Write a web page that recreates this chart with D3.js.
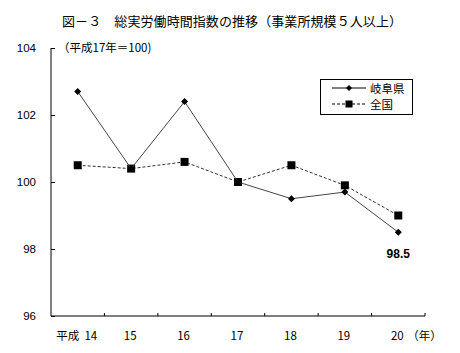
<!DOCTYPE html>
<html>
<head>
<meta charset="utf-8">
<script src="https://cdn.jsdelivr.net/npm/d3@7"></script>
<style>
  body { margin: 0; background: #fff; }
  svg { display: block; font-family: "Noto Sans CJK JP", "DejaVu Sans", sans-serif; }
</style>
</head>
<body>
<svg width="460" height="353"></svg>
<script>
// data
var years = ["14", "15", "16", "17", "18", "19", "20"];
var gifu = [102.7, 100.4, 102.4, 100.0, 99.5, 99.7, 98.5];
var zenkoku = [100.5, 100.4, 100.6, 100.0, 100.5, 99.9, 99.0];
var yTicks = [96, 98, 100, 102, 104];

var svg = d3.select("svg");
var margin = { left: 51, right: 35, top: 48, bottom: 37 };
var width = 460, height = 353;

var x = d3.scaleBand()
    .domain(years)
    .range([margin.left, width - margin.right]);

var y = d3.scaleLinear()
    .domain([96, 104])
    .range([height - margin.bottom, margin.top]);

// title
svg.append("text")
    .attr("x", 232)
    .attr("y", 26)
    .attr("text-anchor", "middle")
    .style("font-size", "13px")
    .attr("textLength", 340)
    .text("図－３　総実労働時間指数の推移（事業所規模５人以上）");

svg.append("text")
    .attr("x", 58)
    .attr("y", 52)
    .style("font-size", "11.5px")
    .text("（平成17年＝100)");

// y axis
var yAxis = d3.axisLeft(y)
    .tickValues(yTicks)
    .tickSize(-4)
    .tickPadding(15)
    .tickFormat(d3.format("d"));

var gy = svg.append("g")
    .attr("transform", "translate(" + margin.left + ",0)")
    .call(yAxis);
gy.select(".domain").attr("d", "M" + 0 + "," + y(104) + "V" + y(96));
gy.selectAll("text").style("font-size", "11.5px").style("font-family", "Liberation Sans, Arial, sans-serif");

// x axis
var gx = svg.append("g")
    .attr("transform", "translate(0," + y(96) + ")");
gx.append("line")
    .attr("x1", margin.left).attr("x2", width - margin.right)
    .attr("stroke", "#000");
gx.selectAll(".tk")
    .data(years.slice(1).concat(["end"]))
    .enter().append("line")
    .attr("x1", function(d, i) { return margin.left + x.bandwidth() * (i + 1); })
    .attr("x2", function(d, i) { return margin.left + x.bandwidth() * (i + 1); })
    .attr("y1", 0).attr("y2", -3)
    .attr("stroke", "#000");
gx.selectAll(".lbl")
    .data(years)
    .enter().append("text")
    .attr("x", function(d) { return x(d) + x.bandwidth() / 2 - 1; })
    .attr("y", 24)
    .attr("text-anchor", "middle")
    .style("font-size", "11.5px")
    .text(function(d, i) { return i == 0 ? "平成\u00a0\u00a014" .replace("14", d) : d; });
gx.append("text")
    .attr("x", x("20") + x.bandwidth() / 2 + 9)
    .attr("y", 24)
    .style("font-size", "11.5px")
    .text("（年）");

var line = d3.line()
    .x(function(d, i) { return x(years[i]) + x.bandwidth() / 2; })
    .y(function(d) { return y(d); });

// national
svg.append("path")
    .datum(zenkoku)
    .attr("d", line)
    .attr("fill", "none")
    .attr("stroke", "#333")
    .attr("stroke-width", 1)
    .attr("stroke-dasharray", "3,2");
svg.selectAll(".sq")
    .data(zenkoku)
    .enter().append("rect")
    .attr("x", function(d, i) { return x(years[i]) + x.bandwidth() / 2 - 4; })
    .attr("y", function(d) { return y(d) - 4; })
    .attr("width", 8).attr("height", 8)
    .attr("fill", "#000");

// gifu
svg.append("path")
    .datum(gifu)
    .attr("d", line)
    .attr("fill", "none")
    .attr("stroke", "#444")
    .attr("stroke-width", 1);
svg.selectAll(".dm")
    .data(gifu)
    .enter().append("path")
    .attr("transform", function(d, i) {
        return "translate(" + (x(years[i]) + x.bandwidth() / 2) + "," + y(d) + ")";
    })
    .attr("d", "M0,-3.5L3.5,0L0,3.5L-3.5,0Z")
    .attr("fill", "#000");

// data label
svg.append("text")
    .attr("x", x("20") + x.bandwidth() / 2)
    .attr("y", y(98.5) + 26)
    .attr("text-anchor", "middle")
    .style("font-size", "12px")
    .style("font-weight", "bold")
    .style("font-family", "Liberation Sans, Arial, sans-serif")
    .text("98.5");

// legend
var lg = svg.append("g");
lg.append("rect")
    .attr("x", 320.5).attr("y", 79.5)
    .attr("width", 92).attr("height", 35)
    .attr("fill", "#fff").attr("stroke", "#000");
lg.append("line")
    .attr("x1", 332).attr("x2", 366).attr("y1", 88).attr("y2", 88)
    .attr("stroke", "#000");
lg.append("path")
    .attr("transform", "translate(349,88)")
    .attr("d", "M0,-3L3,0L0,3L-3,0Z")
    .attr("fill", "#000");
lg.append("text")
    .attr("x", 370).attr("y", 92.5)
    .style("font-size", "11.5px")
    .text("岐阜県");
lg.append("line")
    .attr("x1", 332).attr("x2", 366).attr("y1", 104).attr("y2", 104)
    .attr("stroke", "#000").attr("stroke-dasharray", "3,2");
lg.append("rect")
    .attr("x", 345.5).attr("y", 100.5)
    .attr("width", 7).attr("height", 7)
    .attr("fill", "#000");
lg.append("text")
    .attr("x", 370).attr("y", 108.5)
    .style("font-size", "11.5px")
    .text("全国");
</script>
</body>
</html>
